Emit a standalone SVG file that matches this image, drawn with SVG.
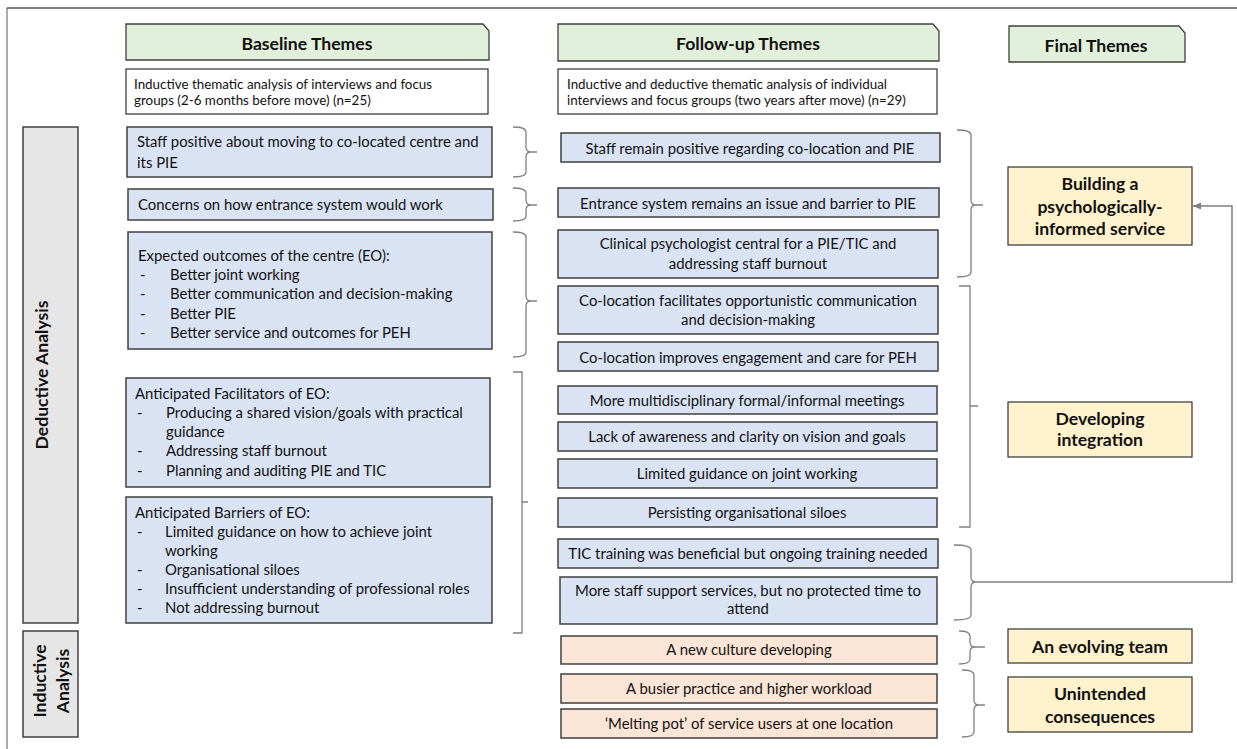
<svg xmlns="http://www.w3.org/2000/svg" width="1237" height="749" viewBox="0 0 1237 749">
<style>
.hdr{fill:#e2efda;stroke:#404040;stroke-width:1.3}
.wbox{fill:#ffffff;stroke:#404040;stroke-width:1.3}
.blue{fill:#dae3f3;stroke:#404040;stroke-width:1.5}
.peach{fill:#fbe5d6;stroke:#404040;stroke-width:1.5}
.yel{fill:#fff2cc;stroke:#404040;stroke-width:1.3}
.gray{fill:#e7e6e6;stroke:#404040;stroke-width:1.5}
.brace{fill:none;stroke:#808080;stroke-width:1.3}
.conn{fill:none;stroke:#7f7f7f;stroke-width:1.5}
text{font-family:Lato,'Liberation Sans',sans-serif;fill:#111111;dominant-baseline:central}
.t{font-size:14.9px}
.s{font-size:13.4px}
.b{font-weight:bold;font-size:17.6px}
.c{text-anchor:middle}
</style>
<defs>
<marker id="arr" markerUnits="userSpaceOnUse" markerWidth="9" markerHeight="8" refX="8" refY="4" orient="auto">
<path d="M0,0.5 L8,4 L0,7.5 z" fill="#7f7f7f"/>
</marker>
</defs>
<rect x="0" y="0" width="1237" height="749" fill="#ffffff"/>
<g id="frame">
<path d="M7 8 H1237" stroke="#808080" stroke-width="2" fill="none"/>
<path d="M7 8 V749" stroke="#595959" stroke-width="1" fill="none"/>
</g>

<g id="hdr-baseline">
<path class="hdr" d="M126 24 H483 L489 31 V60 H126 Z"/>
<text class="b c" x="307" y="43">Baseline Themes</text>
</g>
<g id="hdr-followup">
<path class="hdr" d="M558 24 H933 L939 31 V61 H558 Z"/>
<text class="b c" x="748" y="43">Follow-up Themes</text>
</g>
<g id="hdr-final">
<path class="hdr" d="M1009 26 H1179 L1185 33 V62 H1009 Z"/>
<text class="b c" x="1096" y="45">Final Themes</text>
</g>

<g id="desc-baseline">
<rect class="wbox" x="126" y="69" width="362" height="45"/>
<text class="s" x="134" y="84">Inductive thematic analysis of interviews and focus</text>
<text class="s" x="134" y="100">groups (2-6 months before move) (n=25)</text>
</g>
<g id="desc-followup">
<rect class="wbox" x="558" y="69" width="379" height="45"/>
<text class="s" x="567" y="84">Inductive and deductive thematic analysis of individual</text>
<text class="s" x="567" y="100">interviews and focus groups (two years after move) (n=29)</text>
</g>

<g id="label-deductive">
<rect class="gray" x="23" y="127" width="55" height="496"/>
<text class="b c" transform="translate(41 375) rotate(-90)" x="0" y="0">Deductive Analysis</text>
</g>
<g id="label-inductive">
<rect class="gray" x="23" y="631" width="55" height="106"/>
<text class="b c" transform="translate(39 681) rotate(-90)" x="0" y="0">Inductive</text>
<text class="b c" transform="translate(62 681) rotate(-90)" x="0" y="0">Analysis</text>
</g>

<g id="b1">
<rect class="blue" x="127" y="127" width="365" height="50"/>
<text class="t" x="137" y="141">Staff positive about moving to co-located centre and</text>
<text class="t" x="137" y="162">its PIE</text>
</g>
<g id="b2">
<rect class="blue" x="128" y="189" width="365" height="31"/>
<text class="t" x="138" y="204">Concerns on how entrance system would work</text>
</g>
<g id="b3">
<rect class="blue" x="128" y="232" width="364" height="117"/>
<text class="t" x="138" y="255">Expected outcomes of the centre (EO):</text>
<text class="t" x="140" y="274">-</text><text class="t" x="170" y="274">Better joint working</text>
<text class="t" x="140" y="293">-</text><text class="t" x="170" y="293">Better communication and decision-making</text>
<text class="t" x="140" y="313">-</text><text class="t" x="170" y="313">Better PIE</text>
<text class="t" x="140" y="332">-</text><text class="t" x="170" y="332">Better service and outcomes for PEH</text>
</g>
<g id="b4">
<rect class="blue" x="126" y="378" width="364" height="109"/>
<text class="t" x="135" y="393">Anticipated Facilitators of EO:</text>
<text class="t" x="137" y="412">-</text><text class="t" x="166" y="412">Producing a shared vision/goals with practical</text>
<text class="t" x="166" y="431">guidance</text>
<text class="t" x="137" y="450">-</text><text class="t" x="166" y="450">Addressing staff burnout</text>
<text class="t" x="137" y="470">-</text><text class="t" x="166" y="470">Planning and auditing PIE and TIC</text>
</g>
<g id="b5">
<rect class="blue" x="126" y="497" width="366" height="126"/>
<text class="t" x="135" y="512">Anticipated Barriers of EO:</text>
<text class="t" x="137" y="531">-</text><text class="t" x="165" y="531">Limited guidance on how to achieve joint</text>
<text class="t" x="165" y="550">working</text>
<text class="t" x="137" y="569">-</text><text class="t" x="165" y="569">Organisational siloes</text>
<text class="t" x="137" y="588">-</text><text class="t" x="165" y="588">Insufficient understanding of professional roles</text>
<text class="t" x="137" y="607">-</text><text class="t" x="165" y="607">Not addressing burnout</text>
</g>

<g id="f1"><rect class="blue" x="561" y="133" width="379" height="29"/><text class="t c" x="750" y="148">Staff remain positive regarding co-location and PIE</text></g>
<g id="f2"><rect class="blue" x="558" y="188" width="381" height="29"/><text class="t c" x="748" y="203">Entrance system remains an issue and barrier to PIE</text></g>
<g id="f3"><rect class="blue" x="558" y="230" width="380" height="48"/><text class="t c" x="748" y="243">Clinical psychologist central for a PIE/TIC and</text><text class="t c" x="748" y="263">addressing staff burnout</text></g>
<g id="f4"><rect class="blue" x="558" y="286" width="380" height="48"/><text class="t c" x="748" y="300">Co-location facilitates opportunistic communication</text><text class="t c" x="748" y="319">and decision-making</text></g>
<g id="f5"><rect class="blue" x="558" y="342" width="380" height="29"/><text class="t c" x="748" y="357">Co-location improves engagement and care for PEH</text></g>
<g id="f6"><rect class="blue" x="558" y="386" width="379" height="28"/><text class="t c" x="747" y="400">More multidisciplinary formal/informal meetings</text></g>
<g id="f7"><rect class="blue" x="558" y="422" width="379" height="29"/><text class="t c" x="747" y="436">Lack of awareness and clarity on vision and goals</text></g>
<g id="f8"><rect class="blue" x="558" y="459" width="379" height="29"/><text class="t c" x="747" y="473">Limited guidance on joint working</text></g>
<g id="f9"><rect class="blue" x="558" y="498" width="379" height="29"/><text class="t c" x="747" y="512">Persisting organisational siloes</text></g>
<g id="f10"><rect class="blue" x="558" y="539" width="380" height="29"/><text class="t c" x="748" y="553">TIC training was beneficial but ongoing training needed</text></g>
<g id="f11"><rect class="blue" x="560" y="577" width="377" height="47"/><text class="t c" x="748" y="590">More staff support services, but no protected time to</text><text class="t c" x="748" y="608">attend</text></g>
<g id="f12"><rect class="peach" x="561" y="636" width="376" height="28"/><text class="t c" x="749" y="649">A new culture developing</text></g>
<g id="f13"><rect class="peach" x="561" y="674" width="376" height="29"/><text class="t c" x="749" y="688">A busier practice and higher workload</text></g>
<g id="f14"><rect class="peach" x="561" y="709" width="376" height="29"/><text class="t c" x="749" y="723">‘Melting pot’ of service users at one location</text></g>

<g id="t-building"><rect class="yel" x="1008" y="167" width="184" height="78"/>
<text class="b c" x="1100" y="183">Building a</text><text class="b c" x="1100" y="206">psychologically-</text><text class="b c" x="1100" y="228">informed service</text></g>
<g id="t-integration"><rect class="yel" x="1008" y="402" width="184" height="55"/>
<text class="b c" x="1100" y="418">Developing</text><text class="b c" x="1100" y="439">integration</text></g>
<g id="t-evolving"><rect class="yel" x="1008" y="629" width="184" height="34"/>
<text class="b c" x="1100" y="646">An evolving team</text></g>
<g id="t-unintended"><rect class="yel" x="1008" y="677" width="184" height="55"/>
<text class="b c" x="1100" y="693">Unintended</text><text class="b c" x="1100" y="716">consequences</text></g>

<g id="connectors">
<path class="brace" d="M513 127 Q526 127 526 132 L526 147 Q526 152 531 152 L537 152 M531 152 Q526 152 526 157 L526 172 Q526 177 513 177"/>
<path class="brace" d="M513 188 Q526 188 526 193 L526 200 Q526 205 531 205 L537 205 M531 205 Q526 205 526 210 L526 216 Q526 221 513 221"/>
<path class="brace" d="M513 232 Q526 232 526 237 L526 296 Q526 301 531 301 L537 301 M531 301 Q526 301 526 306 L526 352 Q526 357 513 357"/>
<path class="brace" d="M513 372 H522 V633 H513 M522 502 H528"/>
<path class="brace" d="M957 130 Q971 130 971 135 L971 200 Q971 205 976 205 L983 205 M976 205 Q971 205 971 210 L971 272 Q971 277 957 277"/>
<path class="brace" d="M959 286 H970 V527 H959 M970 406 H978"/>
<path class="brace" d="M954 545 Q971 545 971 550 L971 577 Q971 582 976 582 L985 582 M976 582 Q971 582 971 587 L971 615 Q971 620 954 620"/>
<path class="brace" d="M959 631 Q970 631 970 636 L970 642 Q970 647 975 647 L985 647 M975 647 Q970 647 970 652 L970 659 Q970 664 959 664"/>
<path class="brace" d="M962 670 Q974 670 974 675 L974 700 Q974 705 979 705 L985 705 M979 705 Q974 705 974 710 L974 732 Q974 737 962 737"/>
<path class="conn" d="M985 582 H1232 V206 H1193" marker-end="url(#arr)"/>
</g>
</svg>
